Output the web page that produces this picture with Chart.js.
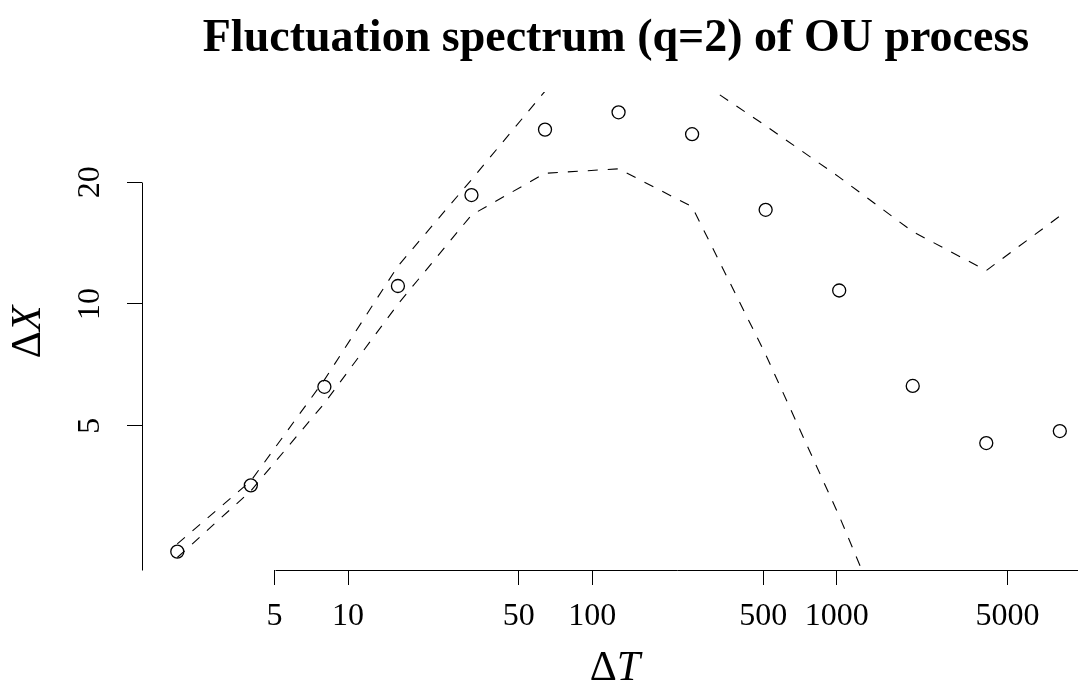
<!DOCTYPE html>
<html>
<head>
<meta charset="utf-8">
<script src="https://cdn.jsdelivr.net/npm/chart.js@4/dist/chart.umd.min.js"></script>
<style>
  html, body { margin: 0; padding: 0; background: #fff; overflow: hidden; }
  #wrap { width: 1078px; height: 693px; position: relative; }
</style>
</head>
<body>
<div id="wrap"><canvas id="c" width="1078" height="693"></canvas></div>
<script>
// ---- data ----
const deltaT = [2, 4, 8, 16, 32, 64, 128, 256, 512, 1024, 2048, 4096, 8192];
const fluct = [2.44, 3.56, 6.24, 11.08, 18.6, 27.0, 29.8, 26.3, 17.1, 10.8, 6.27, 4.53, 4.85];
const upperBand = [2.55, 3.65, 6.49, 12.41, 20.3, 33.6, 42.0, 36.6, 27.6, 20.6, 15.1, 12.1, 16.5];
const lowerBand = [2.36, 3.45, 5.68, 9.99, 16.6, 21.05, 21.6, 17.4, 7.5, 2.99, 1.1, null, null];
const xTickValues = [5, 10, 50, 100, 500, 1000, 5000];
const yTickValues = [5, 10, 20];
const titleText = 'Fluctuation spectrum (q=2) of OU process';

const SERIF = "'Liberation Serif', 'DejaVu Serif', serif";

const pts = arr => deltaT.map((x, i) => ({ x: x, y: arr[i] }));

const rDecor = {
  id: 'rDecor',
  afterDraw(chart) {
    const ctx = chart.ctx;
    const xs = chart.scales.x, ys = chart.scales.y;
    ctx.save();
    ctx.strokeStyle = '#000';
    ctx.lineWidth = 1;
    // x axis line: from first tick to the right edge
    const yLine = Math.round(xs.top) + 0.5;
    ctx.beginPath();
    ctx.moveTo(Math.round(xs.getPixelForValue(xTickValues[0])) + 0.5, yLine);
    ctx.lineTo(xs.right + 20, yLine);
    ctx.stroke();
    // y axis line: from top tick to bottom of plot region
    const xLine = Math.round(ys.right) + 0.5;
    ctx.beginPath();
    ctx.moveTo(xLine, Math.round(ys.getPixelForValue(yTickValues[yTickValues.length - 1])) + 0.5);
    ctx.lineTo(xLine, ys.bottom + 0.5);
    ctx.stroke();

    ctx.fillStyle = '#000';
    // main title
    ctx.font = "bold 46px " + SERIF;
    ctx.textAlign = 'center';
    ctx.textBaseline = 'alphabetic';
    ctx.fillText(titleText, 616, 51);

    // axis titles: Δ upright, variable italic
    const drawMath = (cx, cy, upright, italic) => {
      ctx.font = "42px " + SERIF;
      const w1 = ctx.measureText(upright).width;
      ctx.font = "italic 42px " + SERIF;
      const w2 = ctx.measureText(italic).width;
      const start = cx - (w1 + w2) / 2;
      ctx.textAlign = 'left';
      ctx.font = "42px " + SERIF;
      ctx.fillText(upright, start, cy);
      ctx.font = "italic 42px " + SERIF;
      ctx.fillText(italic, start + w1, cy);
    };
    drawMath(615, 680, '\u0394', 'T');
    ctx.save();
    ctx.translate(40, 332);
    ctx.rotate(-Math.PI / 2);
    drawMath(0, 0, '\u0394', 'X');
    ctx.restore();
    ctx.restore();
  }
};

new Chart(document.getElementById('c'), {
  type: 'scatter',
  data: {
    datasets: [
      {
        label: 'upper',
        data: pts(upperBand),
        showLine: true,
        borderColor: '#000',
        borderWidth: 1.1,
        borderDash: [10, 10],
        pointRadius: 0,
        fill: false
      },
      {
        label: 'lower',
        data: pts(lowerBand),
        showLine: true,
        borderColor: '#000',
        borderWidth: 1.1,
        borderDash: [10, 10],
        pointRadius: 0,
        fill: false
      },
      {
        label: 'F2',
        data: pts(fluct),
        showLine: false,
        pointStyle: 'circle',
        pointRadius: 6.5,
        borderColor: '#000',
        borderWidth: 1.3,
        backgroundColor: 'rgba(0,0,0,0)'
      }
    ]
  },
  options: {
    responsive: false,
    devicePixelRatio: 1,
    animation: false,
    events: [],
    layout: { autoPadding: false, padding: { top: 92, left: 0, right: 0, bottom: 0 } },
    plugins: {
      legend: { display: false },
      tooltip: { enabled: false },
      title: { display: false }
    },
    scales: {
      x: {
        type: 'logarithmic',
        position: 'bottom',
        min: 1.434,
        max: 9723,
        afterBuildTicks: s => { s.ticks = xTickValues.map(v => ({ value: v })); },
        afterFit: s => { s.height = 123; s.paddingLeft = 0; s.paddingRight = 0; },
        border: { display: false },
        grid: { display: true, drawOnChartArea: false, drawTicks: true, tickLength: 15, color: '#000', lineWidth: 1 },
        ticks: {
          autoSkip: false,
          maxRotation: 0,
          minRotation: 0,
          padding: 12,
          color: '#000',
          font: { family: SERIF, size: 32, lineHeight: 1.2 },
          callback: v => String(v)
        }
      },
      y: {
        type: 'logarithmic',
        position: 'left',
        min: 2.198,
        max: 33.45,
        afterBuildTicks: s => { s.ticks = yTickValues.map(v => ({ value: v })); },
        afterFit: s => { s.width = 142; s.paddingTop = 0; s.paddingBottom = 0; },
        border: { display: false },
        grid: { display: true, drawOnChartArea: false, drawTicks: true, tickLength: 15, color: '#000', lineWidth: 1 },
        ticks: {
          autoSkip: false,
          minRotation: 90,
          maxRotation: 90,
          crossAlign: 'center',
          padding: 20,
          color: '#000',
          font: { family: SERIF, size: 32, lineHeight: 1.2 },
          callback: v => String(v)
        }
      }
    }
  },
  plugins: [rDecor]
});
</script>
</body>
</html>
